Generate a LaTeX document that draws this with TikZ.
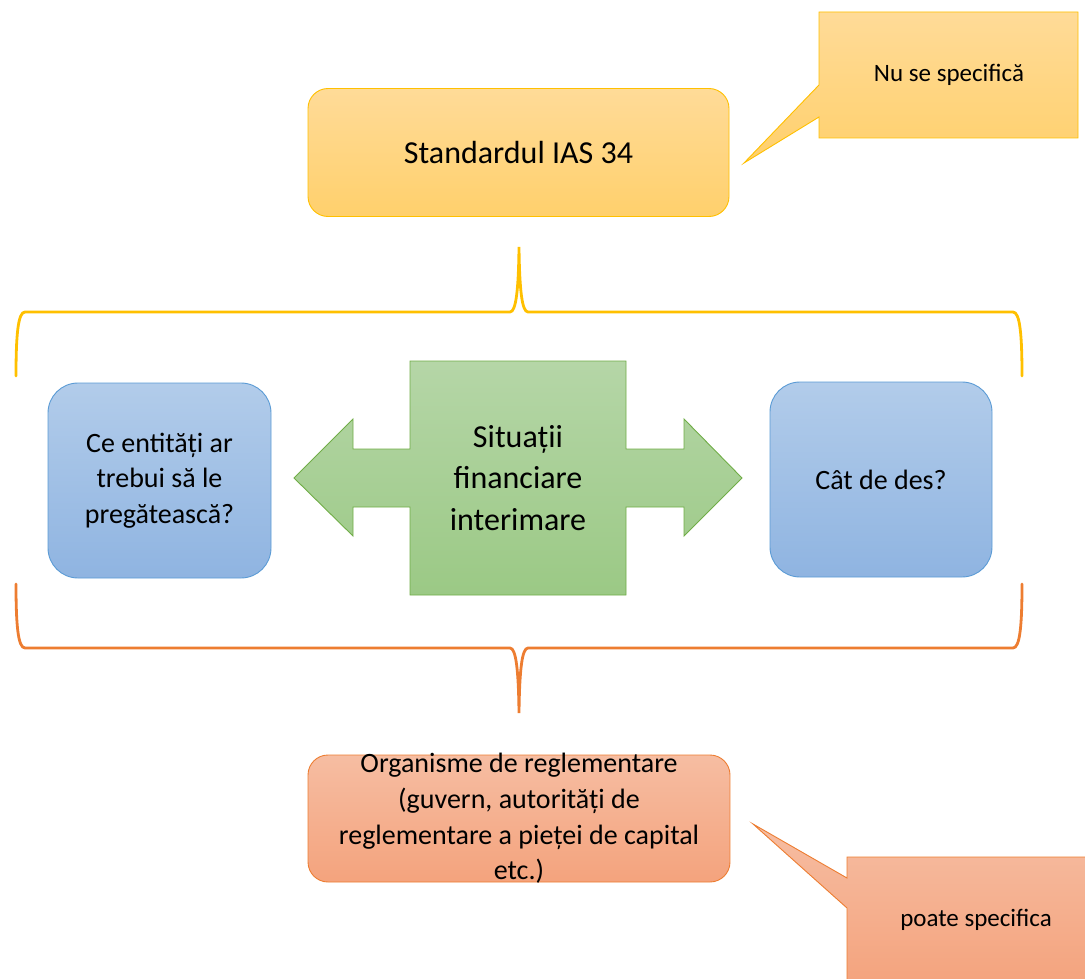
\documentclass[tikz,border=0pt]{standalone}
\usepackage{fontspec}
\setmainfont{Carlito}
\definecolor{ylwline}{HTML}{FFC000}
\definecolor{ylwtop}{HTML}{FFDB98}
\definecolor{ylwbot}{HTML}{FFD06C}
\definecolor{bluline}{HTML}{5B9BD5}
\definecolor{blutop}{HTML}{B2CCEA}
\definecolor{blubot}{HTML}{8FB4E1}
\definecolor{grnline}{HTML}{70AD47}
\definecolor{grntop}{HTML}{B5D6A7}
\definecolor{grnbot}{HTML}{9BC985}
\definecolor{orgline}{HTML}{ED7D31}
\definecolor{orgtop}{HTML}{F6BDA2}
\definecolor{orgbot}{HTML}{F4A37D}
\begin{document}
\begin{tikzpicture}[x=1pt,y=-1pt,
  box/.style={draw, line width=0.9pt, inner sep=0pt, align=center, anchor=center},
  ylwfill/.style={draw=ylwline, top color=ylwtop, bottom color=ylwbot},
  blufill/.style={draw=bluline, top color=blutop, bottom color=blubot},
  grnfill/.style={draw=grnline, top color=grntop, bottom color=grnbot},
  orgfill/.style={draw=orgline, top color=orgtop, bottom color=orgbot},
  txt/.style={inner sep=0pt, align=center, anchor=center, text=black},
  shapeline/.style={line width=0.9pt, line join=miter},
  bracey/.style={draw=ylwline, line width=2.8pt, line cap=round},
  braceo/.style={draw=orgline, line width=2.8pt, line cap=round}]
\path[use as bounding box] (0,0) rectangle (1085,979);
\clip (0,0) rectangle (1085,979);

% top box
\node[box, ylwfill, rounded corners=20pt, minimum width=421pt, minimum height=128pt,
      font=\fontsize{32}{40}\selectfont] (ias) at (518.5,152.5) {Standardul IAS 34};

% top callout
\path[shapeline, ylwfill] (819,12) -- (1078,12) -- (1078,138) -- (819,138) -- (819,117)
   -- (744,163) -- (819,85) -- cycle;
\node[txt, font=\fontsize{25}{30}\selectfont] (nuse) at (949,75) {Nu se specifică};

% top brace
\coordinate (tbtip) at (519,247);
\coordinate (tbl) at (16,376);
\coordinate (tbr) at (1022,376);
\draw[bracey] (tbl) .. controls (16,335) and (18,312) .. (25,312) -- (510,312)
   .. controls (516,312) and (518.5,290) .. (tbtip)
   .. controls (519.5,290) and (522,312) .. (528,312) -- (1013,312)
   .. controls (1020,312) and (1022,335) .. (tbr);

% blue boxes
\node[box, blufill, rounded corners=30pt, minimum width=223pt, minimum height=195pt,
      font=\fontsize{28}{35.5}\selectfont] (who) at (159.5,480.5)
      {Ce entități ar\\ trebui să le\\ pregătească?};
\node[box, blufill, rounded corners=30pt, minimum width=222pt, minimum height=195pt,
      font=\fontsize{28}{35.5}\selectfont] (often) at (881,479.5)
      {Cât de des?};

% green double arrow
\path[shapeline, grnfill] (410,361) -- (626,361) -- (626,449) -- (684,449) -- (684,419)
   -- (742,478) -- (684,536) -- (684,507) -- (626,507) -- (626,595) -- (410,595)
   -- (410,507) -- (353,507) -- (353,536) -- (294,478) -- (353,419) -- (353,449)
   -- (410,449) -- cycle;
\node[txt, font=\fontsize{32}{41.5}\selectfont] (sit) at (518,478)
   {Situații\\ financiare\\ interimare};

% bottom brace
\coordinate (bbtip) at (519,713);
\coordinate (bbl) at (16,584);
\coordinate (bbr) at (1022,584);
\draw[braceo] (bbl) .. controls (16,625) and (18,648) .. (25,648) -- (510,648)
   .. controls (516,648) and (518.5,670) .. (bbtip)
   .. controls (519.5,670) and (522,648) .. (528,648) -- (1013,648)
   .. controls (1020,648) and (1022,625) .. (bbr);

% bottom box
\node[box, orgfill, rounded corners=20pt, minimum width=422pt, minimum height=127pt]
   (org) at (519,818.5) {};
\node[txt, font=\fontsize{28}{35.7}\selectfont] (orgtext) at (org.center)
   {Organisme de reglementare\\ (guvern, autorități de\\ reglementare a pieței de capital\\ etc.)};

% bottom callout
\path[shapeline, orgfill] (847,857) -- (1092,857) -- (1092,986) -- (847,986) -- (847,908)
   -- (753,824) -- (847,878) -- cycle;
\node[txt, font=\fontsize{25}{30}\selectfont] (poate) at (976,920) {poate specifica};
\end{tikzpicture}
\end{document}
